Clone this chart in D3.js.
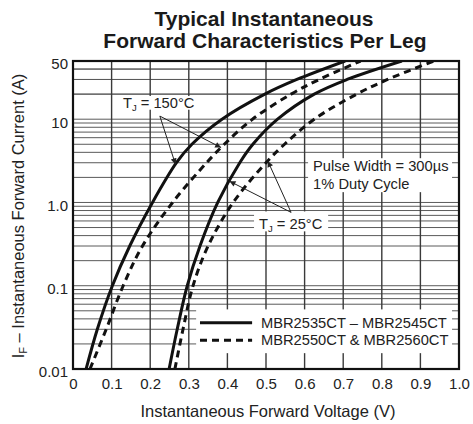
<!DOCTYPE html>
<html><head><meta charset="utf-8">
<script src="https://cdn.jsdelivr.net/npm/d3@7"></script>
<style>
html,body{margin:0;padding:0;background:#fff;}
svg{display:block;font-family:"Liberation Sans",Arial,Helvetica,sans-serif;}
</style></head><body>
<svg id="c" width="473" height="424"></svg>
<script>
// ---------- data ----------
const xTicks = [0, 0.1, 0.2, 0.3, 0.4, 0.5, 0.6, 0.7, 0.8, 0.9, 1.0];
const xTickLabels = ["0", "0.1", "0.2", "0.3", "0.4", "0.5", "0.6", "0.7", "0.8", "0.9", "1.0"];
const yTicks = [0.01, 0.1, 1, 10, 50];
const yTickLabels = ["0.01", "0.1", "1.0", "10", "50"];
const decades = [0.01, 0.1, 1, 10];
const minorMultipliers = [1, 2, 3, 4, 5, 6, 7, 8, 9];

const currents   = [0.01, 0.03, 0.1, 0.3, 1, 3, 5, 10, 20, 30, 50];
const vSolid150  = [0.034, 0.063, 0.102, 0.147, 0.206, 0.268, 0.308, 0.386, 0.497, 0.580, 0.705];
const vDashed150 = [0.044, 0.086, 0.130, 0.180, 0.258, 0.346, 0.392, 0.465, 0.565, 0.638, 0.745];
const vSolid25   = [0.249, 0.270, 0.296, 0.329, 0.375, 0.432, 0.466, 0.530, 0.625, 0.710, 0.852];
const vDashed25  = [0.264, 0.285, 0.311, 0.350, 0.415, 0.500, 0.548, 0.625, 0.735, 0.815, 0.935];

const legendLabels = ["MBR2535CT \u2013 MBR2545CT", "MBR2550CT & MBR2560CT"];

// ---------- layout ----------
const L = 73, R = 459, T = 61, B = 369;

const svg = d3.select("#c");
const x = d3.scaleLinear().domain([0, 1]).range([L, R]);
const y = d3.scaleLog().domain([0.01, 50]).range([B, T]);

const series = [
  {v: vSolid150, dash: null},
  {v: vDashed150, dash: "7,5"},
  {v: vSolid25, dash: null},
  {v: vDashed25, dash: "7,5"}
];

// interpolate V at current I along a series (log-current interpolation)
function vAt(vs, I) {
  const li = Math.log10(I);
  for (let k = 0; k < currents.length - 1; k++) {
    const a = Math.log10(currents[k]), b = Math.log10(currents[k + 1]);
    if (li >= a && li <= b) return vs[k] + (vs[k + 1] - vs[k]) * (li - a) / (b - a);
  }
  return vs[vs.length - 1];
}

// ---------- grid ----------
const hLines = [];
decades.forEach(d => minorMultipliers.forEach(m => { const val = d * m; if (val <= 50) hLines.push(val); }));
hLines.push(20, 30, 40);
const g = svg.append("g");
g.selectAll("line.h").data(hLines.filter(v => v > 0.01 && v < 50)).join("line")
  .attr("x1", L).attr("x2", R)
  .attr("y1", d => y(d)).attr("y2", d => y(d))
  .attr("stroke", "#5a5a5a").attr("stroke-width", 1);
g.selectAll("line.v").data(xTicks.filter(d => d > 0 && d < 1)).join("line")
  .attr("y1", T).attr("y2", B)
  .attr("x1", d => x(d)).attr("x2", d => x(d))
  .attr("stroke", "#3a3a3a").attr("stroke-width", 1.4);

// white boxes behind annotations (in data coordinates)
const boxes = [
  {v0: 0.117, v1: 0.328, i0: 13.0, i1: 19.0},   // TJ = 150°C
  {v0: 0.609, v1: 0.982, i0: 1.33, i1: 3.4},    // Pulse width
  {v0: 0.469, v1: 0.661, i0: 0.45, i1: 0.78},   // TJ = 25°C
  {v0: 0.319, v1: 0.982, i0: 0.0155, i1: 0.052} // legend
];
svg.append("g").selectAll("rect").data(boxes).join("rect")
  .attr("x", d => x(d.v0)).attr("width", d => x(d.v1) - x(d.v0))
  .attr("y", d => y(d.i1)).attr("height", d => y(d.i0) - y(d.i1))
  .attr("fill", "#fff");

// ---------- curves ----------
const line = d3.line().x(d => x(d[0])).y(d => y(d[1])).curve(d3.curveCatmullRom.alpha(0.5));
svg.append("clipPath").attr("id", "pc").append("rect")
  .attr("x", L).attr("y", T).attr("width", R - L).attr("height", B - T);
svg.append("g").attr("clip-path", "url(#pc)").selectAll("path").data(series).join("path")
  .attr("d", s => line(s.v.map((v, i) => [v, currents[i]])))
  .attr("fill", "none").attr("stroke", "#111").attr("stroke-width", 3)
  .attr("stroke-dasharray", s => s.dash);

// ---------- frame ----------
svg.append("rect").attr("x", L).attr("y", T).attr("width", R - L).attr("height", B - T)
  .attr("fill", "none").attr("stroke", "#111").attr("stroke-width", 2.2);

// ---------- axes ----------
const xAxis = d3.axisBottom(x).tickValues(xTicks).tickFormat((d, i) => xTickLabels[i]).tickSize(0).tickPadding(9);
const gx = svg.append("g").attr("transform", `translate(0,${B})`).call(xAxis);
gx.select(".domain").remove();
gx.selectAll("text").attr("font-size", 15).attr("fill", "#222").attr("font-family", "Liberation Sans, Arial, sans-serif");

const yAxis = d3.axisLeft(y).tickValues(yTicks).tickFormat((d, i) => yTickLabels[i]).tickSize(0).tickPadding(5);
const gy = svg.append("g").attr("transform", `translate(${L},0)`).call(yAxis);
gy.select(".domain").remove();
gy.selectAll("text").attr("font-size", 15).attr("fill", "#222").attr("dy", "0.52em").attr("font-family", "Liberation Sans, Arial, sans-serif");

// axis titles
svg.append("text").attr("x", 268).attr("y", 417).attr("text-anchor", "middle")
  .attr("font-size", 16.5).attr("fill", "#222").text("Instantaneous Forward Voltage (V)");
const yt = svg.append("text").attr("transform", "translate(24,216) rotate(-90)")
  .attr("text-anchor", "middle").attr("font-size", 16.5).attr("fill", "#222");
yt.append("tspan").text("I");
yt.append("tspan").attr("font-size", 11).attr("dy", 3).text("F");
yt.append("tspan").attr("dy", -3).text(" \u2013 Instantaneous Forward Current (A)");

// title
const title = svg.append("g").attr("font-weight", "bold").attr("font-size", 21).attr("fill", "#1a1a1a").attr("text-anchor", "middle");
title.append("text").attr("x", 264).attr("y", 26).text("Typical Instantaneous");
title.append("text").attr("x", 265).attr("y", 48).text("Forward Characteristics Per Leg");

// ---------- annotations ----------
const defs = svg.append("defs");
defs.append("marker").attr("id", "ah").attr("viewBox", "0 0 10 10").attr("refX", 10).attr("refY", 5)
  .attr("markerWidth", 8).attr("markerHeight", 6).attr("markerUnits", "userSpaceOnUse").attr("orient", "auto")
  .append("path").attr("d", "M0,0 L10,5 L0,10 Z").attr("fill", "#222");

const arrows = [
  {from: [0.225, 10.9], s: vSolid150, I: 2.87},
  {from: [0.225, 10.9], s: vDashed150, I: 4.56},
  {from: [0.565, 0.76], s: vSolid25, I: 1.8},
  {from: [0.565, 0.76], s: vDashed25, I: 3.15}
];
svg.append("g").selectAll("line").data(arrows).join("line")
  .attr("x1", d => x(d.from[0])).attr("y1", d => y(d.from[1]))
  .attr("x2", d => x(vAt(d.s, d.I))).attr("y2", d => y(d.I))
  .attr("stroke", "#222").attr("stroke-width", 1).attr("marker-end", "url(#ah)");

const ann = svg.append("g").attr("font-size", 14.7).attr("fill", "#222");
function tj(v, I, temp) {
  const t = ann.append("text").attr("x", x(v)).attr("y", y(I)).attr("text-anchor", "middle");
  t.append("tspan").text("T");
  t.append("tspan").attr("font-size", 9.5).attr("dy", 3).text("J");
  t.append("tspan").attr("dy", -3).text(" = " + temp + "\u00B0C");
}
tj(0.222, 13.6, "150");
tj(0.564, 0.48, "25");
ann.append("text").attr("x", x(0.622)).attr("y", y(2.36)).text("Pulse Width = 300\u00B5s");
ann.append("text").attr("x", x(0.622)).attr("y", y(1.44)).text("1% Duty Cycle");

// legend
const lg = svg.append("g");
const legendI = [0.036, 0.0222];
lg.selectAll("line").data(series.filter((s, i) => i < 2)).join("line")
  .attr("x1", x(0.329)).attr("x2", x(0.464))
  .attr("y1", (d, i) => y(legendI[i])).attr("y2", (d, i) => y(legendI[i]))
  .attr("stroke", "#111").attr("stroke-width", 3).attr("stroke-dasharray", d => d.dash);
lg.selectAll("text").data(legendLabels).join("text")
  .attr("x", x(0.487)).attr("y", (d, i) => y(legendI[i]) + 5.3)
  .attr("font-size", 14.7).attr("fill", "#222").text(d => d);
</script>
</body></html>
